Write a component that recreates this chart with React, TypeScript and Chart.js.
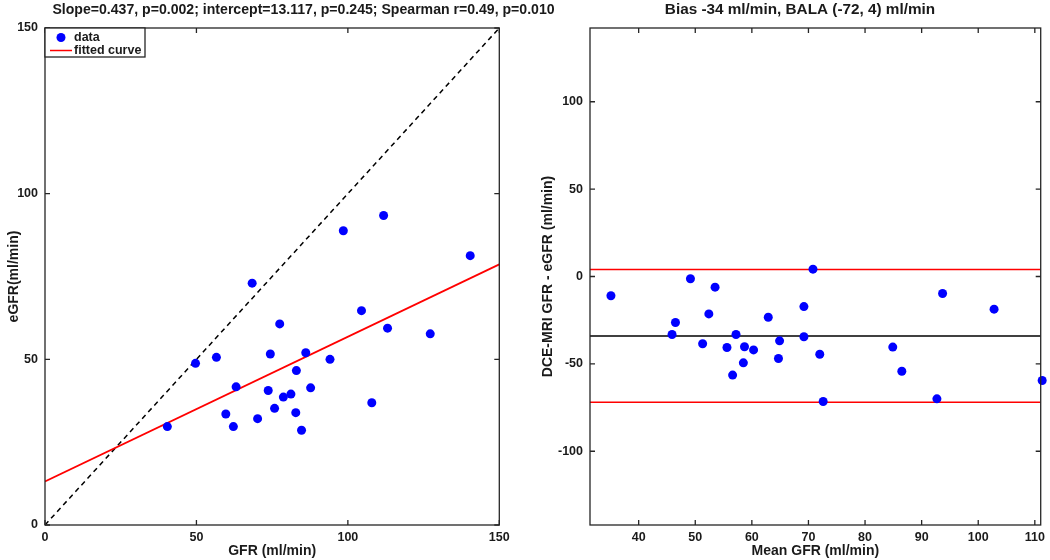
import React, { useEffect, useRef } from "react";
import { Chart, registerables } from "chart.js";

Chart.register(...registerables);

// ---------- Data ----------
const gfr = [68.4, 77.5, 49.7, 56.6, 74.4, 63.1, 73.7, 78.7, 81.2, 75.8, 59.7, 70.2, 62.2, 40.4, 111.8, 98.5, 140.4, 104.5, 113.1, 127.2, 86.1, 94.1, 83.0, 87.7, 107.9, 82.8, 84.7];
const egfr = [73.0, 60.7, 48.8, 50.6, 51.6, 41.7, 40.6, 38.6, 39.5, 35.2, 33.5, 32.1, 29.7, 29.7, 93.4, 88.8, 81.3, 64.7, 59.4, 57.7, 52.0, 50.0, 46.6, 41.4, 36.9, 33.9, 28.6];
const fitSlope = 0.437;
const fitIntercept = 13.117;
const fitRange = [0, 150];
const identityRange = [0, 150];
const leftTicks = [0, 50, 100, 150];

const meanGfr = [35.1, 49.15, 53.5, 46.5, 45.9, 52.4, 51.3, 57.2, 55.6, 58.7, 60.3, 58.5, 56.6, 62.9, 64.9, 64.7, 69.2, 69.2, 70.8, 72.0, 72.6, 84.9, 86.5, 92.7, 93.7, 102.8, 111.3];
const diffGfr = [-11, -1.3, -6.1, -26.3, -33.2, -21.4, -38.5, -33.2, -40.6, -40.2, -42, -49.4, -56.4, -23.3, -36.8, -46.9, -17.2, -34.5, 4.2, -44.5, -71.5, -40.4, -54.2, -70, -9.7, -18.7, -59.5];
const bias = -34;
const limitsOfAgreement = [-72, 4];
const rightXRange = [31.4, 111.04];
const rightYRange = [-142.2, 142.2];
const rightXTicks = [40, 50, 60, 70, 80, 90, 100, 110];
const rightYTicks = [-100, -50, 0, 50, 100];

const titleLeft = "Slope=0.437, p=0.002; intercept=13.117, p=0.245; Spearman r=0.49, p=0.010";
const titleRight = "Bias -34 ml/min, BALA (-72, 4) ml/min";

// ---------- Styling ----------
const FONT = "'Liberation Sans', Arial, Helvetica, sans-serif";
const TEXT = "#1a1a1a";
const AXIS = "#262626";

const framePlugin = {
  id: "frame",
  afterDraw(chart: any) {
    const { ctx, chartArea: a, scales } = chart;
    ctx.save();
    ctx.strokeStyle = AXIS;
    ctx.lineWidth = 1.3;
    ctx.strokeRect(a.left, a.top, a.right - a.left, a.bottom - a.top);
    const L = 5;
    ctx.beginPath();
    scales.x.ticks.forEach((t: any) => {
      const p = scales.x.getPixelForValue(t.value);
      ctx.moveTo(p, a.bottom);
      ctx.lineTo(p, a.bottom - L);
      ctx.moveTo(p, a.top);
      ctx.lineTo(p, a.top + L);
    });
    scales.y.ticks.forEach((t: any) => {
      const p = scales.y.getPixelForValue(t.value);
      ctx.moveTo(a.left, p);
      ctx.lineTo(a.left + L, p);
      ctx.moveTo(a.right, p);
      ctx.lineTo(a.right - L, p);
    });
    ctx.stroke();
    ctx.restore();
  },
};

const titlePlugin = {
  id: "topTitle",
  afterDraw(chart: any, _args: any, opts: any) {
    if (!opts || !opts.text) return;
    const { ctx } = chart;
    ctx.save();
    ctx.font = `bold ${opts.size}px ${FONT}`;
    ctx.fillStyle = TEXT;
    ctx.textAlign = "center";
    ctx.textBaseline = "middle";
    ctx.fillText(opts.text, opts.x, opts.y);
    ctx.restore();
  },
};

const legendPlugin = {
  id: "boxLegend",
  afterDraw(chart: any, _args: any, opts: any) {
    if (!opts || !opts.show) return;
    const { ctx, chartArea: a } = chart;
    const items = chart.data.datasets.filter((d: any) => d.label);
    ctx.save();
    const x0 = a.left;
    const y0 = a.top;
    const w = 100;
    const rowH = 13;
    const h = 3 + rowH * items.length;
    ctx.fillStyle = "#fff";
    ctx.fillRect(x0, y0, w, h);
    ctx.strokeStyle = AXIS;
    ctx.lineWidth = 1.3;
    ctx.strokeRect(x0, y0, w, h);
    ctx.font = `bold 12.5px ${FONT}`;
    ctx.textBaseline = "middle";
    ctx.textAlign = "left";
    items.forEach((d: any, i: number) => {
      const cy = y0 + 9.5 + i * rowH;
      if (d.showLine) {
        ctx.strokeStyle = d.borderColor;
        ctx.lineWidth = 1.5;
        ctx.beginPath();
        ctx.moveTo(x0 + 5, cy);
        ctx.lineTo(x0 + 27, cy);
        ctx.stroke();
      } else {
        ctx.fillStyle = d.backgroundColor;
        ctx.beginPath();
        ctx.arc(x0 + 16, cy, 4.5, 0, Math.PI * 2);
        ctx.fill();
      }
      ctx.fillStyle = TEXT;
      ctx.fillText(d.label, x0 + 29, cy + 0.5);
    });
    ctx.restore();
  },
};

const tickFont = { family: FONT, size: 12.5, weight: "bold" as const };
const labelFont = { family: FONT, size: 14, weight: "bold" as const };

function axis(opts: {
  min: number;
  max: number;
  ticks: number[];
  horizontal: boolean;
  size: number;
  title: string;
  titlePad: number;
}) {
  return {
    type: "linear" as const,
    min: opts.min,
    max: opts.max,
    afterBuildTicks: (s: any) => {
      s.ticks = opts.ticks.map((v) => ({ value: v }));
    },
    afterFit: (s: any) => {
      if (opts.horizontal) s.height = opts.size;
      else s.width = opts.size;
    },
    grid: { display: false, drawTicks: false },
    border: { display: false },
    ticks: { padding: opts.horizontal ? 5 : 7, color: TEXT, font: tickFont },
    title: {
      display: true,
      text: opts.title,
      color: TEXT,
      font: labelFont,
      padding: opts.horizontal ? { top: 0, bottom: opts.titlePad } : { top: opts.titlePad, bottom: 0 },
    },
  };
}

function leftConfig(): any {
  return {
    type: "scatter",
    data: {
      datasets: [
        {
          label: "data",
          data: gfr.map((x, i) => ({ x, y: egfr[i] })),
          backgroundColor: "#0000ff",
          borderWidth: 0,
          pointRadius: 4.5,
          clip: false,
          order: 0,
        },
        {
          label: "fitted curve",
          data: fitRange.map((x) => ({ x, y: fitSlope * x + fitIntercept })),
          showLine: true,
          borderColor: "#ff0000",
          backgroundColor: "#ff0000",
          borderWidth: 1.8,
          pointRadius: 0,
          order: 1,
        },
        {
          label: "",
          data: identityRange.map((v) => ({ x: v, y: v })),
          showLine: true,
          borderColor: "#000000",
          borderDash: [5, 4],
          borderWidth: 1.5,
          pointRadius: 0,
          order: 2,
        },
      ],
    },
    options: {
      responsive: false,
      animation: false,
      devicePixelRatio: 1,
      events: [],
      layout: { padding: { left: 0, right: 550.7, top: 28, bottom: 0 } },
      plugins: {
        legend: { display: false },
        tooltip: { enabled: false },
        topTitle: { text: titleLeft, x: 303.5, y: 10, size: 14.1 },
        boxLegend: { show: true },
      },
      scales: {
        x: axis({ min: 0, max: 150, ticks: leftTicks, horizontal: true, size: 35, title: "GFR (ml/min)", titlePad: 0.6 }),
        y: axis({ min: 0, max: 150, ticks: leftTicks, horizontal: false, size: 45, title: "eGFR(ml/min)", titlePad: 5.6 }),
      },
    },
    plugins: [framePlugin, titlePlugin, legendPlugin],
  };
}

function rightConfig(): any {
  const hline = (v: number, color: string) => ({
    label: "",
    data: rightXRange.map((x) => ({ x, y: v })),
    showLine: true,
    borderColor: color,
    borderWidth: 1.5,
    pointRadius: 0,
    order: 1,
  });
  return {
    type: "scatter",
    data: {
      datasets: [
        {
          label: "",
          data: meanGfr.map((x, i) => ({ x, y: diffGfr[i] })),
          backgroundColor: "#0000ff",
          borderWidth: 0,
          pointRadius: 4.5,
          clip: false,
          order: 0,
        },
        hline(bias, "#000000"),
        hline(limitsOfAgreement[0], "#ff0000"),
        hline(limitsOfAgreement[1], "#ff0000"),
      ],
    },
    options: {
      responsive: false,
      animation: false,
      devicePixelRatio: 1,
      events: [],
      layout: { padding: { left: 525, right: 7.3, top: 28, bottom: 0 } },
      plugins: {
        legend: { display: false },
        tooltip: { enabled: false },
        topTitle: { text: titleRight, x: 800, y: 10, size: 15.3 },
        boxLegend: { show: false },
      },
      scales: {
        x: axis({ min: rightXRange[0], max: rightXRange[1], ticks: rightXTicks, horizontal: true, size: 35, title: "Mean GFR (ml/min)", titlePad: 0.6 }),
        y: axis({ min: rightYRange[0], max: rightYRange[1], ticks: rightYTicks, horizontal: false, size: 65, title: "DCE-MRI GFR - eGFR (ml/min)", titlePad: 14.6 }),
      },
    },
    plugins: [framePlugin, titlePlugin, legendPlugin],
  };
}

export default function App() {
  const r1 = useRef<HTMLCanvasElement>(null);
  const r2 = useRef<HTMLCanvasElement>(null);
  useEffect(() => {
    const c1 = new Chart(r1.current as HTMLCanvasElement, leftConfig());
    const c2 = new Chart(r2.current as HTMLCanvasElement, rightConfig());
    return () => {
      c1.destroy();
      c2.destroy();
    };
  }, []);
  return (
    <div style={{ position: "absolute", left: 0, top: 0, width: 1050, height: 560, background: "#fff" }}>
      <canvas ref={r1} width={1050} height={560} style={{ position: "absolute", left: 0, top: 0 }} />
      <canvas ref={r2} width={1050} height={560} style={{ position: "absolute", left: 0, top: 0 }} />
    </div>
  );
}
